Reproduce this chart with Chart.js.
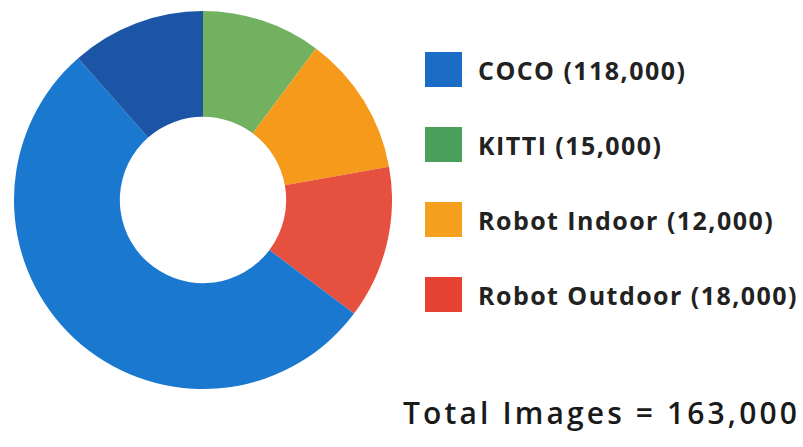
<!DOCTYPE html>
<html>
<head>
<meta charset="utf-8">
<script src="https://cdn.jsdelivr.net/npm/chart.js@4/dist/chart.umd.min.js"></script>
<style>
  html, body { margin: 0; padding: 0; background: #fff; }
  #wrap { position: relative; width: 803px; height: 447px; font-family: "Open Sans", "Liberation Sans", Arial, sans-serif; }
  #chartBox { position: absolute; left: 14px; top: 11px; width: 378px; height: 378px; }
  #legend { position: absolute; left: 425px; top: 52px; }
  .item { display: flex; align-items: center; height: 35px; margin-bottom: 40px; }
  .box { width: 37px; height: 35px; margin-right: 16px; }
  .label { font-size: 25px; font-weight: 700; color: #222; white-space: nowrap; }
  #total { position: absolute; left: 403px; top: 392px; font-size: 30px; font-weight: 600; color: #1a1a1a; white-space: nowrap; }
</style>
</head>
<body>
<div id="wrap">
  <div id="chartBox"><canvas id="donut"></canvas></div>
  <div id="legend"></div>
  <div id="total"></div>
</div>
<script>
// slices in drawing order (clockwise from 12 o'clock), shares (%)
const sliceLabels = ["KITTI", "Robot Indoor", "Robot Outdoor", "COCO", "COCO (part)"];
const sliceShares = [10.2, 12.0, 13.1, 53.3, 11.5];
const sliceColors = ["#72b160", "#f59a1a", "#e5503f", "#1a78cf", "#1d55a6"];

// legend entries
const legendNames = ["COCO", "KITTI", "Robot Indoor", "Robot Outdoor"];
const legendCounts = [118000, 15000, 12000, 18000];
const legendColors = ["#1a6cc4", "#4aa05a", "#f5a01e", "#e54234"];

const fmt = n => n.toLocaleString("en-US");

// ---- legend ----
const legend = document.getElementById("legend");
legendNames.forEach((name, i) => {
  legend.innerHTML += `
    <div class="item">
      <div class="box" style="background:${legendColors[i]}"></div>
      <span class="label">${name} (${fmt(legendCounts[i])})</span>
    </div>`;
});

const total = legendCounts.reduce((a, b) => a + b, 0);
document.getElementById("total").textContent = `Total Images = ${fmt(total)}`;

// stretch text spacing so the widths match the picture
function fitWidth(el, target) {
  const chars = el.textContent.length;
  const w = el.getBoundingClientRect().width;
  el.style.letterSpacing = Math.max(0, (target - w) / chars) + "px";
}
const labels = document.querySelectorAll(".label");
fitWidth(labels[3], 320);
const ls = labels[3].style.letterSpacing;
labels.forEach(l => l.style.letterSpacing = ls);
fitWidth(document.getElementById("total"), 397);

// ---- donut ----
new Chart(document.getElementById("donut"), {
  type: "doughnut",
  data: {
    labels: sliceLabels,
    datasets: [{
      data: sliceShares,
      backgroundColor: sliceColors,
      borderWidth: 0
    }]
  },
  options: {
    responsive: true,
    maintainAspectRatio: false,
    animation: false,
    cutout: "44%",
    plugins: {
      legend: { display: false },
      tooltip: { enabled: false }
    }
  }
});
</script>
</body>
</html>
